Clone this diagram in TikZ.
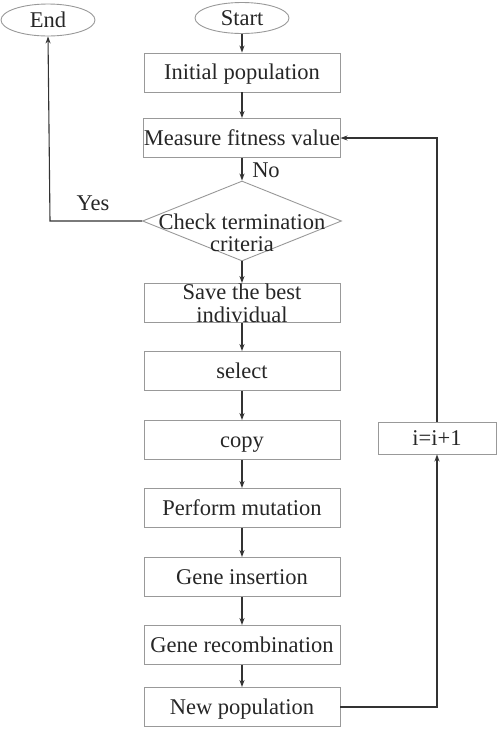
\documentclass[tikz,border=0pt]{standalone}
\usepackage{fontspec}
\setmainfont{Liberation Serif}
\usetikzlibrary{shapes.geometric,arrows.meta}
\begin{document}
\begin{tikzpicture}[x=1pt,y=-1pt,
  font=\fontsize{22.5}{23}\selectfont,
  txt/.style={text=black!85},
  procbox/.style={draw=black!40,line width=0.9pt,minimum width=196pt,minimum height=39pt,inner sep=0pt,text height=18pt,text depth=4pt,txt},
  term/.style={draw=black!40,line width=0.9pt,ellipse,minimum width=94pt,minimum height=31pt,inner sep=0pt,text height=17pt,text depth=3pt,txt},
  flow/.style={draw=black!80,line width=1.1pt,-{Stealth[length=7pt,width=5pt]}},
  plain/.style={draw=black!80,line width=1.1pt}]
\useasboundingbox (0,0) rectangle (498,729);
\node[term] (start) at (242,18) {Start};
\node[term,minimum height=32pt] (end) at (48,20) {End};
\node[procbox] (init) at (242,72.5) {Initial population};
\node[procbox] (fit) at (242,138) {Measure fitness value};
\node[draw=black!40,line width=0.9pt,diamond,minimum width=199pt,minimum height=80pt,inner sep=0pt,aspect=2.5] (chk) at (242,221) {};
\node[txt,align=center,font=\fontsize{22.5}{22}\selectfont] (chkt) at (242,233) {Check termination\\criteria};
\node[procbox,align=center,text height=,text depth=,font=\fontsize{22.5}{23}\selectfont] (save) at (242,303) {Save the best\\individual};
\node[procbox] (sel) at (242,371) {select};
\node[procbox] (copy) at (242,440) {copy};
\node[procbox] (mut) at (242,508) {Perform mutation};
\node[procbox] (ins) at (242,577) {Gene insertion};
\node[procbox] (rec) at (242,645) {Gene recombination};
\node[procbox] (newp) at (242,707) {New population};
\node[draw=black!40,line width=0.9pt,minimum width=118pt,minimum height=32pt,inner sep=0pt,text height=17pt,text depth=3pt,txt] (inc) at (437,438) {i=i+1};
\coordinate (c1) at (437,707);
\coordinate (c2) at (437,138);
\coordinate (c3) at (50,221);
\draw[flow] (start) -- (init);
\draw[flow] (init) -- (fit);
\draw[flow] (fit) -- (chk.north);
\node[txt] (no) at (266,170) {No};
\draw[flow] (chk.south) -- (save);
\draw[flow] (save) -- (sel);
\draw[flow] (sel) -- (copy);
\draw[flow] (copy) -- (mut);
\draw[flow] (mut) -- (ins);
\draw[flow] (ins) -- (rec);
\draw[flow] (rec) -- (newp);
\draw[flow] (newp.east) -- (c1) -- (inc.south);
\draw[flow] (inc.north) -- (c2) -- (fit.east);
\draw[flow] (chk.west) -- (c3) -- (end.south);
\node[txt] (yes) at (93,203) {Yes};
\end{tikzpicture}
\end{document}
